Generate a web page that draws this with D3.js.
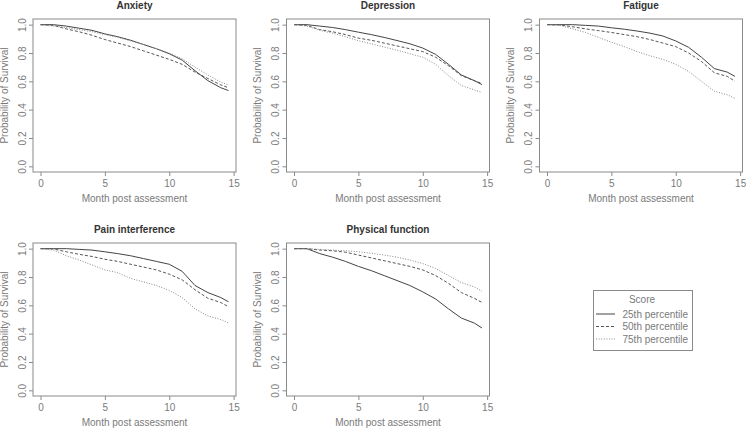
<!DOCTYPE html>
<html>
<head>
    <meta charset="UTF-8">
    <title>Survival by score percentile</title>
    <style>
        body { margin: 0; background: #fff; }
        text { font-family: "Liberation Sans", Arial, sans-serif; }
    </style>
</head>
<body>
    <div id="chart"></div>

    <script src="https://d3js.org/d3.v7.min.js"></script>
    <script>
        // data (probability of survival at each month)
        var months = [0, 1, 2, 3, 4, 5, 6, 7, 8, 9, 10, 11, 12, 13, 14, 14.6];
        var panelTitles = ["Anxiety", "Depression", "Fatigue", "Pain interference", "Physical function"];
        var seriesNames = ["25th percentile", "50th percentile", "75th percentile"];
        var xTicks = [0, 5, 10, 15];
        var yTicks = [0, 0.2, 0.4, 0.6, 0.8, 1.0];

        // each panel: [25th, 50th, 75th]
        var anxiety = [
            [1.0, 1.0, 0.99, 0.975, 0.96, 0.935, 0.915, 0.89, 0.86, 0.83, 0.795, 0.75, 0.675, 0.605, 0.555, 0.535],
            [1.0, 0.995, 0.97, 0.95, 0.925, 0.895, 0.87, 0.845, 0.815, 0.785, 0.755, 0.72, 0.665, 0.62, 0.575, 0.555],
            [1.0, 0.99, 0.98, 0.965, 0.95, 0.93, 0.91, 0.885, 0.86, 0.83, 0.8, 0.76, 0.7, 0.645, 0.595, 0.575]
        ];
        var depression = [
            [1.0, 1.0, 0.99, 0.98, 0.965, 0.947, 0.93, 0.91, 0.888, 0.865, 0.835, 0.79, 0.72, 0.645, 0.605, 0.577],
            [1.0, 0.995, 0.965, 0.95, 0.93, 0.905, 0.89, 0.87, 0.85, 0.83, 0.81, 0.77, 0.71, 0.64, 0.605, 0.585],
            [1.0, 0.99, 0.96, 0.94, 0.915, 0.887, 0.865, 0.842, 0.82, 0.795, 0.77, 0.72, 0.64, 0.57, 0.54, 0.52]
        ];
        var fatigue = [
            [1.0, 1.0, 1.0, 0.995, 0.99, 0.978, 0.968, 0.955, 0.94, 0.92, 0.885, 0.84, 0.77, 0.69, 0.665, 0.635],
            [1.0, 0.998, 0.985, 0.97, 0.958, 0.945, 0.93, 0.915, 0.895, 0.87, 0.845, 0.8, 0.74, 0.66, 0.635, 0.6],
            [1.0, 0.995, 0.97, 0.945, 0.91, 0.876, 0.845, 0.81, 0.78, 0.755, 0.72, 0.67, 0.6, 0.53, 0.505, 0.48]
        ];
        var pain = [
            [1.0, 1.0, 1.0, 0.995, 0.99, 0.978, 0.965, 0.95, 0.93, 0.91, 0.89, 0.84, 0.74, 0.69, 0.655, 0.625],
            [1.0, 0.998, 0.978, 0.96, 0.945, 0.925, 0.91, 0.89, 0.87, 0.85, 0.82, 0.78, 0.71, 0.65, 0.62, 0.59],
            [1.0, 0.99, 0.95, 0.92, 0.885, 0.85, 0.83, 0.79, 0.765, 0.74, 0.705, 0.655, 0.575, 0.525, 0.5, 0.475]
        ];
        var physical = [
            [1.0, 1.0, 0.965, 0.94, 0.91, 0.875, 0.845, 0.81, 0.775, 0.74, 0.695, 0.645, 0.575, 0.51, 0.475, 0.44],
            [1.0, 1.0, 0.99, 0.985, 0.975, 0.955, 0.935, 0.915, 0.895, 0.875, 0.85, 0.81, 0.755, 0.69, 0.65, 0.62],
            [1.0, 1.0, 0.995, 0.99, 0.985, 0.978, 0.968, 0.955, 0.94, 0.92, 0.895, 0.86, 0.81, 0.76, 0.73, 0.7]
        ];
        var panelData = [anxiety, depression, fatigue, pain, physical];

        // layout / styles
        var width = 746, height = 429;
        var colLeft = [33, 286.5, 539.5];
        var rowTop = [19, 243];
        var boxW = 203, boxH = 153;
        var lineColor = ["#444", "#555", "#888"];
        var lineDash = [null, "3,2", "1,1.6"];
        var greyText = "#7a7a7a";
        var boxColor = "#8a8a8a";

        var svg = d3.select("#chart")
            .append("svg")
            .attr("width", width)
            .attr("height", height);

        panelData.forEach(function (series, i) {
            var left = colLeft[i % 3];
            var top = rowTop[Math.floor(i / 3)];

            // R style: 4% padding around the data range
            var x = d3.scaleLinear().domain([-0.584, 15.184]).range([left, left + boxW]);
            var y = d3.scaleLinear().domain([-0.04, 1.04]).range([top + boxH, top]);

            var g = svg.append("g");

            // x axis
            var gx = g.append("g")
                .attr("transform", "translate(0," + (top + boxH) + ")")
                .call(d3.axisBottom(x).tickValues(xTicks).tickSize(4).tickPadding(3.5));
            gx.select(".domain").remove();
            gx.selectAll("line").attr("stroke", boxColor);
            gx.selectAll("text")
                .attr("fill", greyText)
                .style("font-size", "10px")
                .style("font-family", "'Liberation Sans', Arial, sans-serif");

            // y axis, labels parallel to the axis
            var gy = g.append("g")
                .attr("transform", "translate(" + left + ",0)")
                .call(d3.axisLeft(y).tickValues(yTicks).tickSize(4).tickFormat(d3.format(".1f")));
            gy.select(".domain").remove();
            gy.selectAll("line").attr("stroke", boxColor);
            gy.selectAll("text")
                .attr("transform", "rotate(-90)")
                .attr("x", 0)
                .attr("y", -7.5)
                .attr("dy", null)
                .attr("text-anchor", "middle")
                .attr("fill", greyText)
                .style("font-size", "10px")
                .style("font-family", "'Liberation Sans', Arial, sans-serif");

            // box
            g.append("rect")
                .attr("x", left)
                .attr("y", top)
                .attr("width", boxW)
                .attr("height", boxH)
                .attr("fill", "none")
                .attr("stroke", boxColor)
                .attr("stroke-width", 1);

            // curves
            var line = d3.line()
                .x(function (d) { return x(d[0]); })
                .y(function (d) { return y(d[1]); });

            series.forEach(function (vals, k) {
                g.append("path")
                    .datum(d3.zip(months, vals))
                    .attr("d", line)
                    .attr("fill", "none")
                    .attr("stroke", lineColor[k])
                    .attr("stroke-width", 1)
                    .attr("stroke-dasharray", lineDash[k]);
            });

            // titles and labels
            g.append("text")
                .attr("x", left + boxW / 2)
                .attr("y", top - 10)
                .attr("text-anchor", "middle")
                .attr("fill", "#333")
                .style("font-size", "10px")
                .style("font-weight", "bold")
                .text(panelTitles[i]);

            g.append("text")
                .attr("x", left + boxW / 2)
                .attr("y", top + boxH + 30)
                .attr("text-anchor", "middle")
                .attr("fill", greyText)
                .style("font-size", "10px")
                .text("Month post assessment");

            g.append("text")
                .attr("transform", "translate(" + (left - 25.5) + "," + (top + boxH / 2) + ") rotate(-90)")
                .attr("text-anchor", "middle")
                .attr("fill", greyText)
                .style("font-size", "10px")
                .text("Probability of Survival");
        });

        // legend
        var lg = svg.append("g");
        lg.append("rect")
            .attr("x", 593.5)
            .attr("y", 290.5)
            .attr("width", 99)
            .attr("height", 60)
            .attr("fill", "none")
            .attr("stroke", boxColor);
        lg.append("text")
            .attr("x", 642)
            .attr("y", 302.5)
            .attr("text-anchor", "middle")
            .attr("fill", greyText)
            .style("font-size", "10px")
            .text("Score");
        seriesNames.forEach(function (name, k) {
            var yy = 314 + k * 12.5;
            lg.append("line")
                .attr("x1", 596).attr("x2", 615)
                .attr("y1", yy).attr("y2", yy)
                .attr("stroke", lineColor[k])
                .attr("stroke-dasharray", lineDash[k]);
            lg.append("text")
                .attr("x", 622.5)
                .attr("y", yy + 3.5)
                .attr("fill", greyText)
                .style("font-size", "10px")
                .text(name);
        });
    </script>
</body>
</html>
